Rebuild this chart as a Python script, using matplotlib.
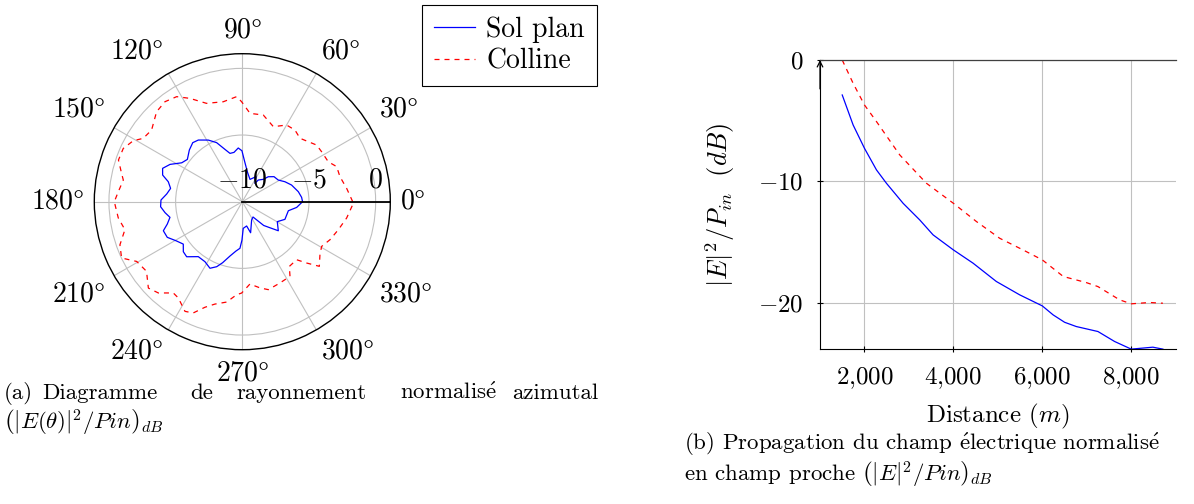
import numpy as np
import matplotlib
matplotlib.use('Agg')
import matplotlib.pyplot as plt
from matplotlib.lines import Line2D

plt.rcParams['font.family'] = ['cmr10', 'DejaVu Serif']
plt.rcParams['mathtext.fontset'] = 'cm'
plt.rcParams['axes.unicode_minus'] = False

# ---------------- data: azimuthal pattern (deg, dB) ----------------
sol_theta = [0, 4.2, 10.1, 18.7, 25.1, 31, 38.3, 43.9, 46.8, 53.6, 55.4, 61.3, 71, 80.5, 87.3,
             90.4, 94.3, 99.6, 104.3, 108.3, 113.5, 118.9, 125.5, 130, 135.7, 142.4, 147.3,
             152.7, 157.3, 161.5, 164.9, 169.5, 174.2, 178.8, 183.5, 188.1, 192.2, 196.6,
             200.2, 205.4, 210.5, 215.7, 220.3, 224.7, 231.3, 238.1, 244.1, 248.5, 252.1,
             257.2, 262.7, 267.1, 269.5, 272, 280.1, 285, 297, 305, 312, 317.7, 321.1, 330.3,
             337.5, 348.9, 354, 360]
sol_db = [-5.48, -5.54, -5.73, -6.1, -6.47, -6.85, -6.97, -7.3, -7.7, -7.98, -8.33, -7.86,
          -8.23, -7.72, -6.87, -6.18, -5.96, -6.25, -6.26, -5.87, -5.17, -4.72, -4.32, -4.22,
          -4.45, -4.8, -4.6, -3.9, -3.52, -3.7, -4.25, -4.53, -4.3, -3.9, -3.86, -4.15, -4.45,
          -4.13, -3.69, -3.77, -4.23, -4.55, -4.2, -4.13, -4.72, -4.7, -4.45, -4.76, -5.19,
          -5.82, -6.27, -6.5, -7.12, -8.0, -8.15, -7.59, -8.46, -8.6, -7.6, -7.03, -6.53,
          -6.98, -6.54, -6.48, -5.9, -5.48]

col_theta = [0, 7.3, 14.4, 20.4, 24.9, 32.2, 37.3, 42.3, 47.7, 53.7, 60, 67.5, 76.4, 85, 90.4,
             93.1, 100.8, 110, 116.9, 122, 127.7, 133.6, 141.7, 147.4, 150.8, 155.9, 161.4,
             166.8, 169.7, 175.4, 180, 187.5, 193.4, 199.4, 205, 209.5, 216, 222.6, 227.4,
             232.9, 236.4, 242.4, 246.2, 250.5, 255, 261.1, 266.5, 269.6, 275.3, 281.6, 286.5,
             294.8, 302.6, 306, 313.1, 316.4, 320, 325.7, 330.6, 336.6, 343.7, 351.1, 358.4, 360]
col_db = [-1.72, -2.11, -2.44, -2.45, -2.89, -2.97, -2.99, -3.31, -3.57, -3.33, -3.36, -3.91,
          -3.31, -3.35, -2.5, -2.11, -2.37, -2.15, -1.31, -0.71, -0.52, -0.68, -1.33, -1.18,
          -0.63, -0.22, -0.2, -0.7, -0.93, -0.67, -0.4, -0.62, -0.95, -0.27, -0.01, -0.9,
          -1.12, -0.43, -0.7, -1.42, -1.33, -0.72, -0.88, -1.6, -2.05, -2.38, -3.01, -3.15,
          -3.8, -3.4, -3.12, -3.28, -3.36, -4.0, -4.04, -3.33, -2.46, -2.95, -3.17, -2.83,
          -2.5, -2.08, -1.72, -1.72]

# ---------------- data: near-field propagation (m, dB) ----------------
sol_dist = [1500, 1745, 2000, 2270, 2494, 2869, 3243, 3543, 4000, 4442, 4966, 5491, 6000,
            6243, 6502, 6764, 7251, 7625, 8000, 8487, 8712]
sol_prop = [-2.88, -5.35, -7.27, -9.05, -10.15, -11.8, -13.17, -14.4, -15.64, -16.73, -18.24,
            -19.34, -20.25, -20.99, -21.6, -21.95, -22.36, -23.18, -23.81, -23.65, -23.81]
col_dist = [1500, 1745, 2000, 2270, 2794, 3393, 4000, 4517, 5041, 5566, 6000, 6472, 6989,
            7251, 7738, 8000, 8412, 8712]
col_prop = [0, -1.92, -3.7, -5.07, -7.82, -10.15, -11.8, -13.3, -14.68, -15.64, -16.46, -17.83,
            -18.33, -18.66, -19.75, -20.08, -19.97, -20.03]

theta_ticks = [0, 30, 60, 90, 120, 150, 180, 210, 240, 270, 300, 330]
r_ticks = [-10, -5, 0]
dist_ticks = [2000, 4000, 6000, 8000]
dist_labels = [r'$2{,}000$', r'$4{,}000$', r'$6{,}000$', r'$8{,}000$']
prop_ticks = [-20, -10, 0]

W, H = 1194, 504
GRID = '#c0c0c0'
BLUE = '#0000ff'
RED = '#ff0000'
DASH = (0, (4, 4))
E_ACUTE = r'$\mathrm{\acute{e}}$'


def fx(px):
    return px / W


def fy(py):
    return 1 - py / H


fig = plt.figure(figsize=(W / 100, H / 100), dpi=100)

# ---------------- polar plot ----------------
cx, cy, R = 242.3, 201.7, 148
ax = fig.add_axes([fx(cx - R), fy(cy + R), 2 * R / W, 2 * R / H], projection='polar')
rmax = 1.1
ax.set_rlim(-10, rmax)
ax.plot(np.deg2rad(sol_theta), sol_db, color=BLUE, lw=0.9)
ax.plot(np.deg2rad(col_theta), col_db, color=RED, lw=0.9, linestyle=DASH)
ax.set_xticks(np.deg2rad(theta_ticks))
ax.set_xticklabels([])
ax.set_yticks(r_ticks)
ax.set_yticklabels([])
ax.grid(True, color=GRID, lw=0.8)
ax.tick_params(axis='x', direction='out', length=8, color=GRID, width=0.8)
ax.tick_params(axis='y', length=0)
ax.spines['polar'].set_color('black')
ax.spines['polar'].set_linewidth(1.0)
ax.plot([0, 0], [-10, rmax], color='black', lw=1.3, clip_on=False)

pad = 10
for a in theta_ticks:
    c, s = np.cos(np.deg2rad(a)), np.sin(np.deg2rad(a))
    ha = 'left' if c > 0.1 else ('right' if c < -0.1 else 'center')
    va = 'bottom' if s > 0.1 else ('top' if s < -0.1 else 'center')
    ax.annotate(r'$%d\degree$' % a, xy=(np.deg2rad(a), rmax), xytext=(pad * c, pad * s),
                textcoords='offset pixels', ha=ha, va=va, fontsize=20, annotation_clip=False)

for r in r_ticks:
    ax.annotate(r'$%d$' % r, xy=(0, r), xytext=(0, 8), textcoords='offset pixels',
                ha='center', va='bottom', fontsize=20, annotation_clip=False)

handles = [Line2D([], [], color=BLUE, lw=0.9), Line2D([], [], color=RED, lw=0.9, linestyle=DASH)]
leg = fig.legend(handles, ['Sol plan', 'Colline'], loc='upper right',
                 bbox_to_anchor=(fx(596.7), fy(5)), fontsize=20, fancybox=False,
                 edgecolor='black', framealpha=1, handlelength=1.5, borderpad=0.42,
                 labelspacing=0.18, handletextpad=0.4, borderaxespad=0)
leg.get_frame().set_linewidth(0.8)

# ---------------- propagation plot ----------------
left, right, top, bottom = 820, 1175.7, 60, 349
ax2 = fig.add_axes([fx(left), fy(bottom), (right - left) / W, (bottom - top) / H])
ax2.plot(sol_dist, sol_prop, color=BLUE, lw=0.9)
ax2.plot(col_dist, col_prop, color=RED, lw=0.9, linestyle=DASH)
ax2.set_xlim(1000, 9000)
ax2.set_ylim(-23.8, 0)
ax2.set_xticks(dist_ticks)
ax2.set_xticklabels(dist_labels, fontsize=18)
ax2.set_yticks(prop_ticks)
ax2.set_yticklabels([r'$%d$' % v for v in prop_ticks], fontsize=18)
ax2.grid(True, color=GRID, lw=0.8)
ax2.tick_params(direction='inout', length=4, width=0.8, pad=10)
ax2.spines['right'].set_visible(False)
ax2.spines['top'].set_color('#404040')
ax2.spines['top'].set_linewidth(0.9)
ax2.annotate('', xy=(0, 1.0), xytext=(0, 0.9), xycoords='axes fraction',
             arrowprops=dict(arrowstyle='->', color='black', lw=0.9, shrinkA=0, shrinkB=0))
ax2.set_xlabel(r'Distance $(m)$', fontsize=18, labelpad=8)
ax2.set_ylabel(r'$|E|^2/P_{in}\ \ (dB)$', fontsize=19, labelpad=15)

# ---------------- captions ----------------
cap = 16.5
words_a = [('(a)', 4), ('Diagramme', 42), ('de', 190), ('rayonnement', 236),
           ('normalis' + E_ACUTE, 400), ('azimutal', 512)]
for w, x in words_a:
    fig.text(fx(x), fy(399), w, fontsize=cap, va='baseline', ha='left')
fig.text(fx(4), fy(430), r'$\left(|E(\theta)|^2/Pin\right)_{dB}$', fontsize=cap, va='baseline')
fig.text(fx(684), fy(450), '(b) Propagation du champ ' + E_ACUTE + 'lectrique normalis' + E_ACUTE,
         fontsize=cap, va='baseline')
fig.text(fx(684), fy(481), r'en champ proche $\left(|E|^2/Pin\right)_{dB}$', fontsize=cap,
         va='baseline')

fig.savefig('out.png', dpi=100)
